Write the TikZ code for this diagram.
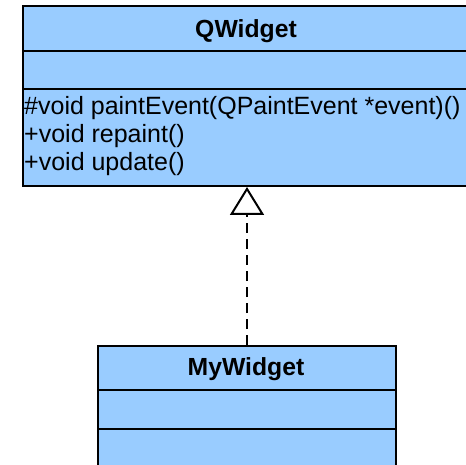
\documentclass[tikz,border=0pt]{standalone}
\usepackage{fontspec}
\setmainfont{Liberation Sans}
\usetikzlibrary{arrows.meta}
\definecolor{umlblue}{HTML}{99CCFF}
\tikzset{
  classbox/.style={draw=black, fill=umlblue, line width=2pt, rectangle, inner sep=0pt},
  divider/.style={draw=black, line width=2pt},
  titletext/.style={font=\fontsize{24.75}{28}\selectfont\bfseries, inner sep=0pt, anchor=base},
  membertext/.style={font=\fontsize{25}{28}\selectfont, inner sep=0pt, anchor=base west},
  realize/.style={line width=1.6pt, dash pattern=on 10pt off 6pt,
    -{Triangle[open, width=34pt, length=28pt, fill=white, line width=2pt]}}
}
\begin{document}
\begin{tikzpicture}[x=1pt,y=-1pt]
\useasboundingbox (0,0) rectangle (466,465);
\clip (0,0) rectangle (466,465);
% QWidget
\node[classbox, minimum width=448pt, minimum height=180pt, anchor=north west] (qw) at (22,5) {};
\draw[divider] (22,51) -- (470,51);
\draw[divider] (22,89) -- (470,89);
\node[titletext] (qwt) at (246,38) {QWidget};
\node[membertext] (qm1) at (24,115) {\#void paintEvent(QPaintEvent *event)()};
\node[membertext] (qm2) at (24,143) {+void repaint()};
\node[membertext] (qm3) at (24,171) {+void update()};
% MyWidget
\node[classbox, minimum width=298pt, minimum height=140pt, anchor=north west] (mw) at (97,345) {};
\draw[divider] (97,390) -- (395,390);
\draw[divider] (97,429) -- (395,429);
\node[titletext] (mwt) at (246,375) {MyWidget};
% realization
\draw[realize] (mw.north) -- (qw.south);
\end{tikzpicture}
\end{document}
